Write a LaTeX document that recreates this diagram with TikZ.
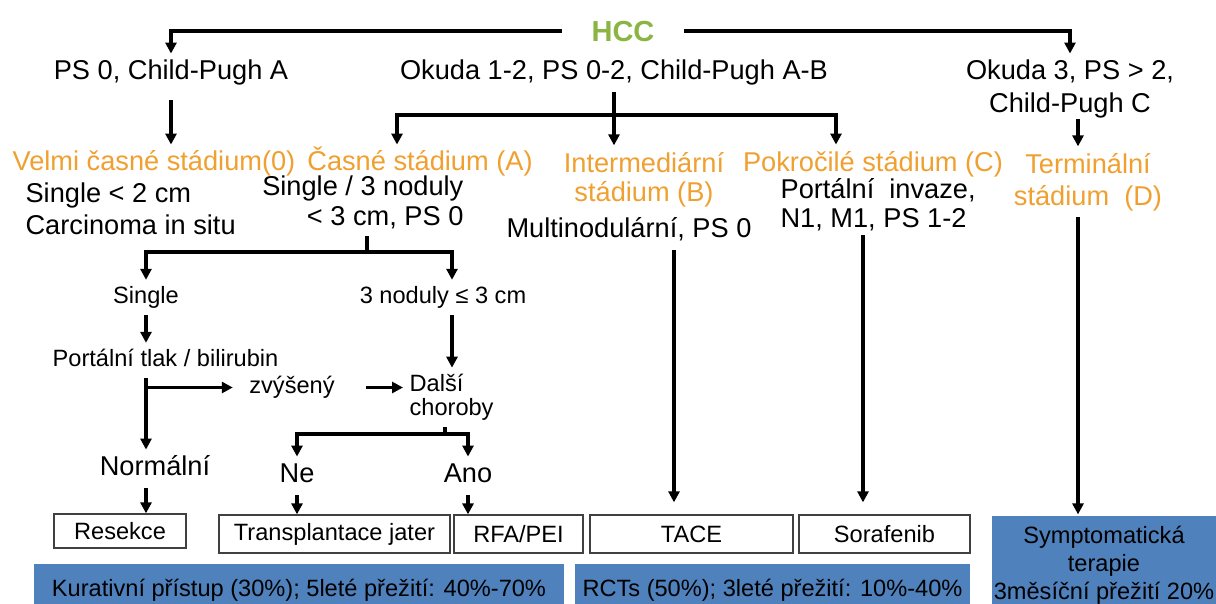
\documentclass[tikz,border=0pt]{standalone}
\usepackage{fontspec}
\setmainfont{Liberation Sans}
\usetikzlibrary{arrows.meta,positioning}
\definecolor{HccGreen}{HTML}{8BB543}
\definecolor{StageOrange}{HTML}{F0A030}
\definecolor{OutcomeBlue}{HTML}{4F81BD}
\newcommand{\BigText}[1][31]{\fontsize{27.2}{#1}\selectfont}
\newcommand{\SmallText}[1][25]{\fontsize{23.6}{#1}\selectfont}

\begin{document}
\begin{tikzpicture}[
  x=1pt,y=-1pt,
  line width=3.2pt,
  arr/.style={-{Triangle[width=11pt,length=11pt]}},
  big/.style={font=\BigText,inner sep=5pt,text height=19.6pt,text depth=5.7pt},
  small/.style={font=\SmallText,inner sep=5pt,text height=17pt,text depth=5pt},
  stage/.style={big,text=StageOrange},
  treatbox/.style={draw=black!75,line width=1.3pt,font=\SmallText,inner sep=0pt},
  outcome/.style={fill=OutcomeBlue,font=\SmallText,inner sep=0pt,align=center},
]
  \path[use as bounding box,fill=white] (0,0) rectangle (1216,603);

  % top of the tree
  \node[font=\fontsize{29}{33}\bfseries,text=HccGreen,inner ysep=2pt,inner xsep=28pt,
        text height=21pt,text depth=0pt] (hcc) at (623,31) {HCC};
  \node[big] (ps0) at (171,72.8) {PS 0, Child-Pugh A};
  \node[big] (okuda12) at (614,72.8) {Okuda 1-2, PS 0-2, Child-Pugh A-B};
  \node[font={\BigText[33]},inner sep=5pt,align=center] (okuda3) at (1070,89.3)
    {Okuda 3, PS > 2,\\Child-Pugh C};

  % stages
  \node[stage] (velmi) at (154,163.8) {Velmi časné stádium(0)};
  \node[stage] (casne) at (420,163.8) {Časné stádium (A)};
  \node[font={\BigText[29]},text=StageOrange,inner sep=5pt,align=center] (inter) at (644,179.3)
    {Intermediární\\stádium (B)};
  \node[stage,inner ysep=0pt,text depth=3pt] (pokrocile) at (873,163.5) {Pokročilé stádium (C)};
  \node[font={\BigText[32]},text=StageOrange,inner sep=5pt,align=center] (terminal) at (1088,181.8)
    {Terminální\\stádium\ \ (D)};

  % stage descriptions
  \node[font={\BigText[32]},inner sep=5pt,align=left,anchor=west] (velmiDesc) at (19,208.8)
    {Single < 2 cm\\Carcinoma in situ};
  \node[font={\BigText[30]},inner sep=5pt,align=right,anchor=east] (casneDesc) at (470,202.8)
    {Single / 3 noduly\\< 3 cm, PS 0};
  \node[big] (interDesc) at (629,230.8) {Multinodulární, PS 0};
  \node[font={\BigText[29]},inner xsep=5pt,inner ysep=1pt,align=left,anchor=west] (pokrocileDesc) at (774,204.3)
    {Portální\ \ invaze,\\N1, M1, PS 1-2};

  % early stage decisions
  \node[small] (single) at (146,297.4) {Single};
  \node[small] (noduly3) at (443,297.4) {3 noduly ≤ 3 cm};
  \node[small] (portal) at (165.5,360.4) {Portální tlak / bilirubin};
  \node[small] (zvyseny) at (292,387.5) {zvýšený};
  \node[font={\SmallText[24]},inner sep=5pt,align=left,anchor=west] (dalsi) at (403,397.4)
    {Další\\choroby};
  \node[big] (normal) at (155,468.8) {Normální};
  \node[big] (ne) at (297,475.8) {Ne};
  \node[big] (ano) at (468,475.8) {Ano};

  % treatments
  \node[treatbox,minimum width=132pt,minimum height=34pt] (resekce) at (120,531) {Resekce};
  \node[treatbox,minimum width=231pt,minimum height=38pt] (transpl) at (334.5,534) {Transplantace jater};
  \node[treatbox,minimum width=129pt,minimum height=38pt] (rfa) at (518.5,534) {RFA/PEI};
  \node[treatbox,minimum width=203pt,minimum height=38pt] (tace) at (691.5,534) {TACE};
  \node[treatbox,minimum width=171pt,minimum height=38pt] (sora) at (884.5,534) {Sorafenib};
  \node[outcome,font={\SmallText[28]},minimum width=224pt,minimum height=99pt] (symp) at (1104,565.5)
    {Symptomatická\\terapie\\3měsíční přežití 20\%};

  % outcomes
  \node[outcome,minimum width=530pt,minimum height=53pt] (kurat) at (299,590.5)
    {Kurativní přístup (30\%); 5leté přežití: 40\%-70\%};
  \node[outcome,minimum width=395pt,minimum height=53pt] (rct) at (772.5,590.5)
    {RCTs (50\%); 3leté přežití: 10\%-40\%};

  % rails and columns
  \coordinate (railA) at (397,115);
  \coordinate (railC) at (836,115);
  \coordinate (railS) at (367,252);
  \coordinate (railNA) at (445,434);
  \coordinate (colN) at (452,0);
  \coordinate (colD) at (1078,0);
  \coordinate (colT) at (674,0);
  \coordinate (colS) at (863,0);

  \draw[arr] (hcc.west) -| (ps0.north);
  \draw[arr] (hcc.east) -| (okuda3.north);
  \draw[arr,shorten <=8pt] (ps0.south) -- (ps0.south |- velmi.north);

  \draw[arr] (okuda12.south |- railA) -| (railA |- casne.north);
  \draw[arr] (okuda12.south |- railA) -| (railC |- casne.north);
  \draw[arr] (okuda12.south) -- (okuda12.south |- inter.north);
  \draw[arr,shorten <=-6pt] (colD |- okuda3.south) -- (colD |- terminal.north);
  \draw[arr] (colD |- terminal.south) -- (colD |- symp.north);

  \draw (casneDesc.south -| railS) -- (railS);
  \draw[arr] (railS) -| (single.north);
  \draw[arr] (railS) -| (colN |- noduly3.north);
  \draw[arr] (single.south) -- (single.south |- portal.north);
  \draw[arr] (single |- portal.south) -- (single |- normal.north);
  \draw[arr,shorten >=10pt] (single |- zvyseny.west) -- (zvyseny.west);
  \draw[arr,shorten <=25pt] (zvyseny.east) -- (zvyseny.east -| dalsi.west);
  \draw[arr] (colN |- noduly3.south) -- (colN |- dalsi.north);

  \draw (dalsi.south -| railNA) -- (railNA);
  \draw[arr] (railNA) -| (ne.north);
  \draw[arr] (railNA) -| (ano.north);

  \draw[arr] (single |- normal.south) -- (single |- resekce.north);
  \draw[arr] (ne.south) -- (ne.south |- transpl.north);
  \draw[arr] (ano.south) -- (ano.south |- rfa.north);
  \draw[arr,shorten >=12pt] (colT |- interDesc.south) -- (colT |- tace.north);
  \draw[arr,shorten <=2pt,shorten >=12pt] (colS |- pokrocileDesc.south) -- (colS |- sora.north);
\end{tikzpicture}
\end{document}
